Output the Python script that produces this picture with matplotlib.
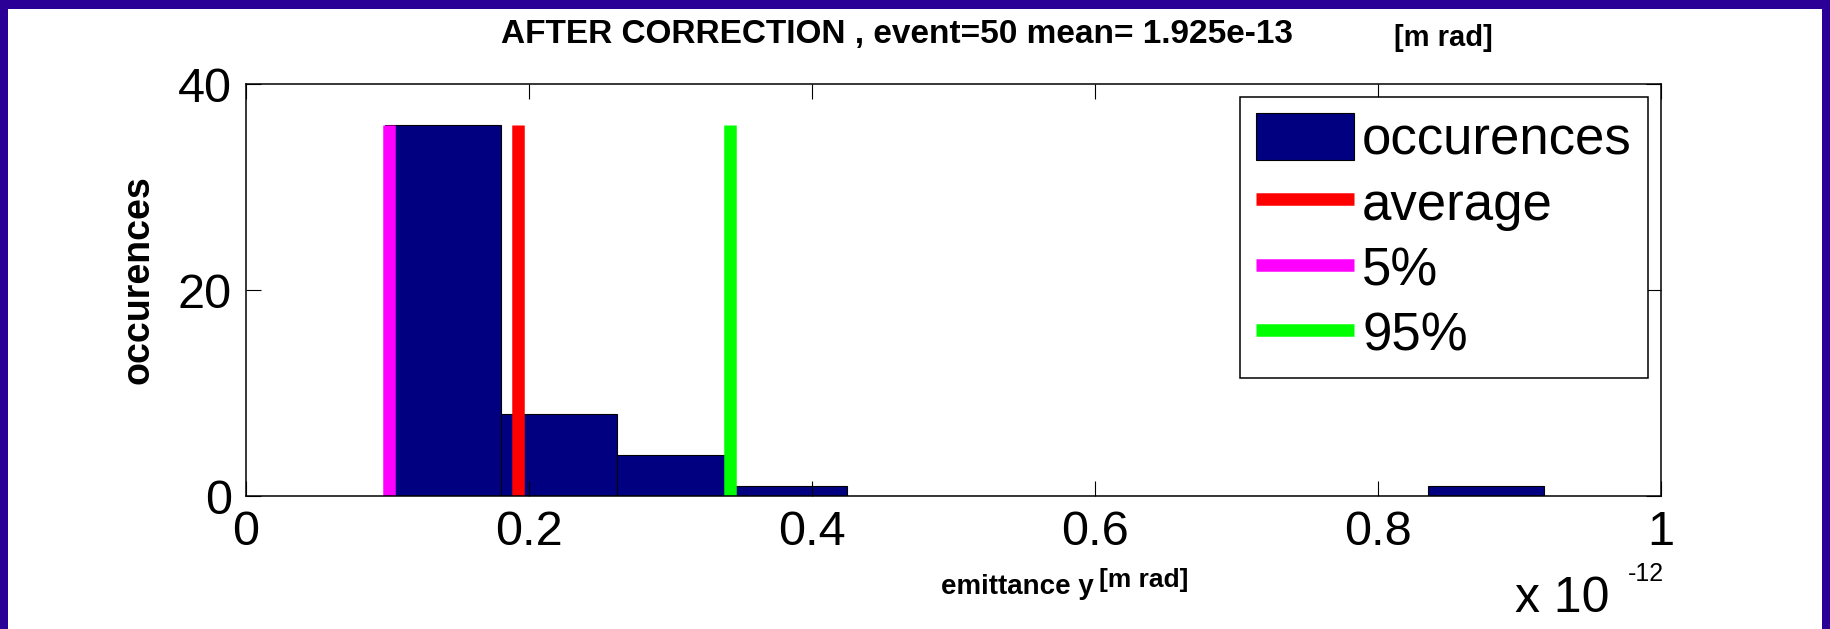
import numpy as np
import matplotlib.pyplot as plt
from matplotlib.patches import Rectangle
from matplotlib.ticker import FuncFormatter

plt.rcParams['font.family'] = ['Liberation Sans', 'DejaVu Sans']

# histogram of vertical emittance after correction, in units of 1e-12 m rad
bin_edges = [0.098, 0.180, 0.262, 0.344, 0.425, 0.507, 0.589, 0.671, 0.753, 0.835, 0.917]
counts = [36, 8, 4, 1, 0, 0, 0, 0, 0, 1]
emit_mean = 0.1925
emit_p5 = 0.101
emit_p95 = 0.342
n_events = 50

W, H = 1831, 629
fig = plt.figure(figsize=(W / 100, H / 100), dpi=100, facecolor='#2a0096')
# white page inside the dark frame
fig.add_artist(Rectangle((8 / W, 0), (W - 17) / W, (H - 9) / H,
                         transform=fig.transFigure, facecolor='white',
                         edgecolor='none', zorder=-1))

ax = fig.add_axes([246 / W, 1 - 496 / H, 1415 / W, 412 / H])

edges = np.array(bin_edges)
bars = ax.bar(edges[:-1], counts, width=np.diff(edges), align='edge',
              color='#000080', edgecolor='black', linewidth=0.8,
              label='occurences')
top = max(counts)
l_avg, = ax.plot([emit_mean, emit_mean], [0, top], color='#ff0000', lw=9,
                 solid_capstyle='butt', label='average')
l_p5, = ax.plot([emit_p5, emit_p5], [0, top], color='#ff00ff', lw=9,
                solid_capstyle='butt', label='5%')
l_p95, = ax.plot([emit_p95, emit_p95], [0, top], color='#00ff00', lw=9,
                 solid_capstyle='butt', label='95%')

ax.set_xlim(0, 1)
ax.set_ylim(0, 40)
ax.set_xticks([0, 0.2, 0.4, 0.6, 0.8, 1])
ax.set_yticks([0, 20, 40])
ax.xaxis.set_major_formatter(FuncFormatter(lambda v, p: '%g' % v))
ax.tick_params(direction='in', length=11, width=0.8, labelsize=35,
               top=True, right=True, pad=10)
for s in ax.spines.values():
    s.set_linewidth(1.1)

leg = ax.legend([bars, l_avg, l_p5, l_p95],
                ['occurences', 'average', '5%', '95%'],
                loc='upper right', bbox_to_anchor=(1, 1), borderaxespad=0.25,
                fontsize=38, handlelength=1.86, handleheight=1.0,
                handletextpad=0.15, labelspacing=0.24, borderpad=0.3,
                fancybox=False, framealpha=1, edgecolor='black')
leg.get_frame().set_linewidth(1.1)

fig.text(897 / W, 1 - 34 / H,
         'AFTER CORRECTION , event=%d mean= %.3fe-13' % (n_events, emit_mean * 10),
         ha='center', va='center', fontsize=24, weight='bold')
fig.text(1443 / W, 1 - 38 / H, '[m rad]', ha='center', va='center',
         fontsize=21, weight='bold')

fig.text(1017 / W, 1 - 587 / H, 'emittance y', ha='center', va='center',
         fontsize=20, weight='bold')
fig.text(1144 / W, 1 - 580 / H, '[m rad]', ha='center', va='center',
         fontsize=19, weight='bold')
fig.text(139 / W, 1 - 280 / H, 'occurences', ha='center', va='center',
         rotation=90, fontsize=27, weight='bold')

# axis multiplier, written out by hand
fig.text(1515 / W, 1 - 599 / H, 'x 10', ha='left', va='center', fontsize=36)
fig.text(1628 / W, 1 - 574 / H, '-12', ha='left', va='center', fontsize=18)

fig.savefig('out.png', dpi=100, facecolor=fig.get_facecolor())
